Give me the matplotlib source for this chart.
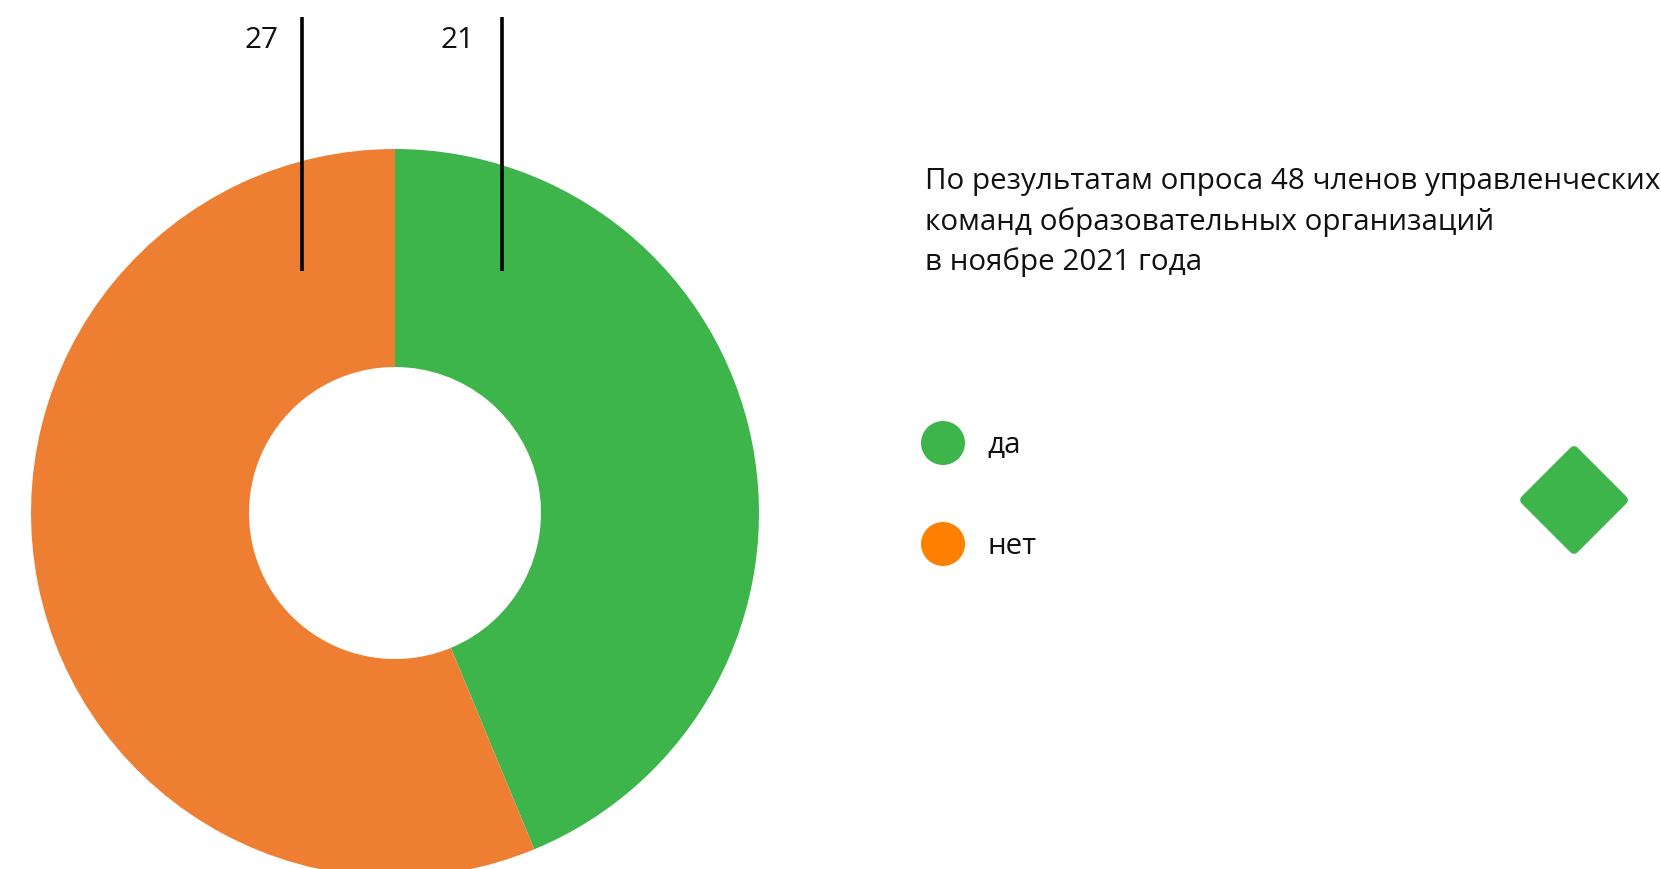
import matplotlib
matplotlib.use("Agg")
import matplotlib.pyplot as plt
from matplotlib.patches import Rectangle, Circle, Polygon

plt.rcParams['font.family'] = ['Open Sans', 'DejaVu Sans']

# data
categories = ["да", "нет"]
values = [21, 27]
slice_colors = ["#3db54b", "#ee7f32"]
legend_colors = ["#3db54b", "#ff8000"]
title_lines = ["По результатам опроса 48 членов управленческих",
               "команд образовательных организаций",
               "в ноябре 2021 года"]

W, H = 1661, 869
fig = plt.figure(figsize=(W / 100, H / 100), dpi=100)
ax = fig.add_axes([0, 0, 1, 1])

def Y(y):  # pixel-from-top -> data y
    return H - y

FS = 21.3
cx, cy, R, r_in = 395, Y(513), 364, 146
wedges, _ = ax.pie(values, colors=slice_colors, startangle=90, counterclock=False,
                   center=(cx, cy), radius=R,
                   wedgeprops=dict(width=R - r_in, linewidth=0))
clip = Rectangle((0, 0), 758, H, transform=ax.transData)
for w in wedges:
    w.set_clip_path(clip)

ax.set_xlim(0, W)
ax.set_ylim(0, H)
ax.set_aspect('auto')
ax.axis('off')

# leader lines and value labels (green first, orange second)
label_x = [502, 302]
label_gap = [27, 23]
for v, lx, g in zip(values, label_x, label_gap):
    ax.plot([lx, lx], [Y(17), Y(271)], color='black', lw=2.6, solid_capstyle='butt')
    ax.text(lx - g, Y(40), str(v), ha='right', va='center', fontsize=FS, color='#111111')

# title
for i, line in enumerate(title_lines):
    ax.text(925, Y(182 + 40 * i), line, ha='left', va='center', fontsize=FS, color='#111111')

# legend
for i, (cat, col) in enumerate(zip(categories, legend_colors)):
    yy = Y(443 + 101 * i)
    ax.add_patch(Circle((943, yy), 22, color=col, lw=0))
    ax.text(987, yy - 3, cat, ha='left', va='center', fontsize=FS, color='#111111')

# decorative diamond
dx, dy, d = 1574, Y(500), 49
ax.add_patch(Polygon([(dx, dy + d), (dx + d, dy), (dx, dy - d), (dx - d, dy)],
                     closed=True, facecolor='#3db54b', edgecolor='#3db54b',
                     lw=7, joinstyle='round'))

fig.savefig("out.png", dpi=100)
